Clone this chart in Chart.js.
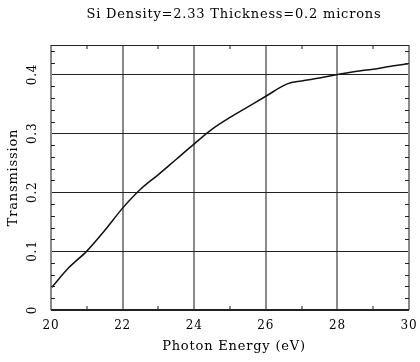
<!DOCTYPE html>
<html>
<head>
<meta charset="utf-8">
<script src="https://cdn.jsdelivr.net/npm/chart.js@4/dist/chart.umd.min.js"></script>
<style>
  html, body { margin: 0; padding: 0; background: #fff; }
  #wrap { width: 420px; height: 362px; }
</style>
</head>
<body>
<div id="wrap"><canvas id="transChart" width="420" height="362"></canvas></div>
<script>
// Transmission curve of a silicon filter
const energy = [20, 20.5, 21, 21.5, 22, 22.5, 23, 23.5, 24, 24.5, 25, 25.5, 26, 26.6, 27, 27.5, 28, 28.5, 29, 29.5, 30];
const transmission = [0.037, 0.072, 0.100, 0.135, 0.173, 0.205, 0.230, 0.256, 0.282, 0.307, 0.327, 0.345, 0.363, 0.384, 0.389, 0.394, 0.400, 0.405, 0.409, 0.414, 0.418];

// Axis ticks
const xTicks = [20, 22, 24, 26, 28, 30];
const xMinor = [21, 23, 25, 27, 29];
const yTicks = [0, 0.1, 0.2, 0.3, 0.4];
const yLabels = ["0", "0.1", "0.2", "0.3", "0.4"];
const yMinor = [0.02, 0.04, 0.06, 0.08, 0.12, 0.14, 0.16, 0.18, 0.22, 0.24, 0.26, 0.28,
                0.32, 0.34, 0.36, 0.38, 0.42, 0.44];

const TITLE = "Si Density=2.33 Thickness=0.2 microns";
const X_TITLE = "Photon Energy (eV)";

const FONT = "'DejaVu Serif', serif";
const VCOL = "#8a8a8a"; // vertical rules
const HCOL = "#222";    // horizontal rules

// wide, spaced lettering for all text
const spacingPlugin = {
  id: "spacing",
  beforeDraw(chart) {
    chart.ctx.letterSpacing = "0.8px";
  },
};

// Frame, inward minor ticks, rotated y labels and titles
const framePlugin = {
  id: "frame",
  afterDraw(chart) {
    const { ctx, chartArea: a, scales } = chart;
    const xs = scales.x, ys = scales.y;
    ctx.save();
    // vertical edges
    ctx.strokeStyle = VCOL;
    ctx.lineWidth = 2;
    ctx.beginPath();
    ctx.moveTo(a.left, a.top); ctx.lineTo(a.left, a.bottom);
    ctx.moveTo(a.right, a.top); ctx.lineTo(a.right, a.bottom);
    xMinor.forEach((v) => {
      const px = Math.round(xs.getPixelForValue(v));
      ctx.moveTo(px, a.top); ctx.lineTo(px, a.top + 4);
      ctx.moveTo(px, a.bottom); ctx.lineTo(px, a.bottom - 4);
    });
    ctx.stroke();
    // horizontal edges
    ctx.strokeStyle = HCOL;
    ctx.lineWidth = 1;
    ctx.beginPath();
    ctx.moveTo(a.left, Math.round(a.top) + 0.5); ctx.lineTo(a.right, Math.round(a.top) + 0.5);
    ctx.moveTo(a.left, Math.round(a.bottom) - 0.5); ctx.lineTo(a.right, Math.round(a.bottom) - 0.5);
    yMinor.forEach((v) => {
      const py = Math.round(ys.getPixelForValue(v)) + 0.5;
      ctx.moveTo(a.left, py); ctx.lineTo(a.left + 4, py);
      ctx.moveTo(a.right, py); ctx.lineTo(a.right - 4, py);
    });
    ctx.stroke();
    // y tick labels, rotated
    ctx.fillStyle = "#000";
    ctx.font = "12px " + FONT;
    ctx.letterSpacing = "0.8px";
    ctx.textAlign = "center";
    ctx.textBaseline = "middle";
    yTicks.forEach((v, i) => {
      const py = ys.getPixelForValue(v);
      ctx.save();
      ctx.translate(33, py);
      ctx.rotate(-Math.PI / 2);
      ctx.fillText(yLabels[i], 0, 0);
      ctx.restore();
    });
    // titles sit slightly right of the plot centre
    const cx = (a.left + a.right) / 2 + 4;
    ctx.font = "13px " + FONT;
    ctx.fillText(TITLE, cx, 15);
    ctx.fillText(X_TITLE, cx, 346.5);
    ctx.restore();
  },
};

const ctx = document.getElementById("transChart").getContext("2d");
new Chart(ctx, {
  type: "line",
  data: {
    datasets: [
      {
        data: energy.map((e, i) => ({ x: e, y: transmission[i] })),
        borderColor: "#111",
        borderWidth: 1.5,
        pointRadius: 0,
        cubicInterpolationMode: "monotone",
        fill: false,
      },
    ],
  },
  options: {
    responsive: false,
    animation: false,
    layout: { padding: { left: 0, right: 11, top: 45, bottom: 0 } },
    plugins: {
      legend: { display: false },
      tooltip: { enabled: false },
      title: { display: false },
    },
    scales: {
      x: {
        type: "linear",
        min: 20,
        max: 30,
        afterBuildTicks: (s) => { s.ticks = xTicks.map((v) => ({ value: v })); },
        afterFit: (s) => {
          s.height = 52;
          // end labels may overhang; the layout padding covers them
          s.paddingLeft = 0;
          s.paddingRight = 0;
        },
        grid: { color: VCOL, lineWidth: 2, drawTicks: false },
        border: { display: false },
        ticks: {
          color: "#000",
          padding: 9,
          maxRotation: 0,
          font: { family: FONT, size: 12 },
        },
      },
      y: {
        type: "linear",
        min: 0,
        max: 0.45,
        afterBuildTicks: (s) => { s.ticks = yTicks.map((v) => ({ value: v })); },
        afterFit: (s) => { s.width = 51; },
        grid: { color: HCOL, lineWidth: 1, drawTicks: false },
        border: { display: false },
        ticks: { display: false },
        title: {
          display: true,
          text: "Transmission",
          color: "#000",
          font: { family: FONT, size: 13 },
          padding: { top: 6, bottom: 0 },
        },
      },
    },
  },
  plugins: [spacingPlugin, framePlugin],
});
</script>
</body>
</html>
